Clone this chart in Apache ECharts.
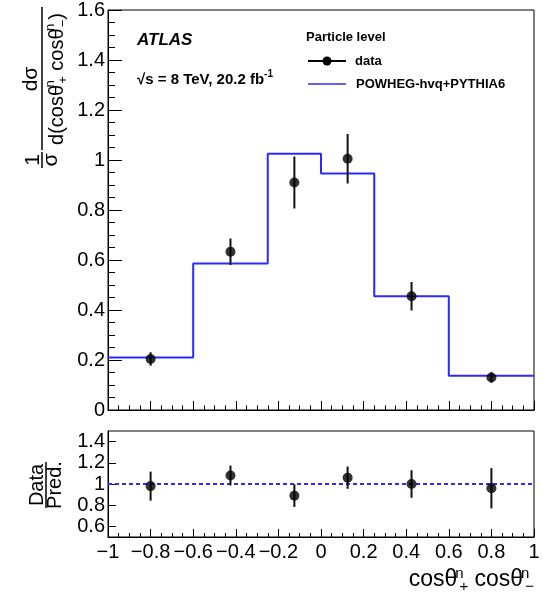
<!DOCTYPE html>
<html><head><meta charset="utf-8">
<script src="https://cdn.jsdelivr.net/npm/echarts@6/dist/echarts.min.js"></script>
<style>html,body{margin:0;padding:0;background:#fff}#c{width:543px;height:594px}</style>
</head><body><div id="c"></div>
<script>
const binEdges = [-1, -0.6, -0.25, 0, 0.25, 0.6, 1];
const binCenters = [-0.8, -0.425, -0.125, 0.125, 0.425, 0.8];
const dataValues = [0.204, 0.633, 0.910, 1.005, 0.455, 0.130];
const dataErrors = [0.027, 0.053, 0.104, 0.099, 0.057, 0.021];
const predValues = [0.210, 0.586, 1.025, 0.946, 0.455, 0.137];
const ratioValues = [0.98, 1.08, 0.89, 1.06, 1.00, 0.96];
const ratioErrors = [0.137, 0.094, 0.107, 0.105, 0.13, 0.19];
const ratioReference = 1;
const ratioTicks = [0.6, 0.8, 1, 1.2, 1.4];

const FONT = '"Liberation Sans", Arial, Helvetica, sans-serif';
const BLUE = '#2b2bff';

const histData = binEdges.slice(0, -1).map((e, i) => [e, predValues[i]]);
histData.push([binEdges[binEdges.length - 1], predValues[predValues.length - 1]]);
const pointData = binCenters.map((x, i) => [x, dataValues[i], dataErrors[i]]);
const ratioData = binCenters.map((x, i) => [x, ratioValues[i], ratioErrors[i]]);

function errRender(params, api) {
  const x = api.value(0), y = api.value(1), e = api.value(2);
  const a = api.coord([x, y + e]), b = api.coord([x, y - e]);
  return {type: 'line', shape: {x1: a[0], y1: a[1], x2: b[0], y2: b[1]},
          style: {stroke: '#111', lineWidth: 2}};
}

const scriptRich = (sz, gap) => ({
  sup: {fontSize: sz, fontFamily: FONT, verticalAlign: 'top', lineHeight: sz, width: 0.1, align: 'left', padding: [0, 0, 0, gap]},
  sub: {fontSize: sz, fontFamily: FONT, verticalAlign: 'bottom', lineHeight: sz}
});

const chart = echarts.init(document.getElementById('c'), null, {renderer: 'canvas'});
const xCommon = {
  type: 'value', min: -1, max: 1, interval: 0.2,
  axisLine: {show: true, onZero: false, lineStyle: {color: '#000', width: 1}},
  axisTick: {show: true, inside: true, length: 9, lineStyle: {color: '#000'}},
  minorTick: {show: true, splitNumber: 4, length: 4.5, lineStyle: {color: '#000'}},
  splitLine: {show: false}
};
chart.setOption({
  animation: false,
  backgroundColor: '#fff',
  grid: [
    {left: 108, right: 9, top: 10, height: 400, show: true, borderColor: '#000', borderWidth: 1, backgroundColor: 'transparent'},
    {left: 108, right: 9, top: 431, height: 106, show: true, borderColor: '#000', borderWidth: 1, backgroundColor: 'transparent'}
  ],
  xAxis: [
    Object.assign({}, xCommon, {gridIndex: 0, axisLabel: {show: false}}),
    Object.assign({}, xCommon, {gridIndex: 1, axisTick: {show: true, inside: true, length: 8, lineStyle: {color: '#000'}},
      minorTick: {show: true, splitNumber: 4, length: 4, lineStyle: {color: '#000'}},
      axisLabel: {show: true, fontSize: 20, fontFamily: FONT, color: '#000', margin: 5,
        formatter: v => String(Math.round(v * 10) / 10).replace('-', '\u2212')}})
  ],
  yAxis: [
    {gridIndex: 0, type: 'value', min: 0, max: 1.6, interval: 0.2,
     axisLine: {show: true, onZero: false, lineStyle: {color: '#000'}},
     axisTick: {show: true, inside: true, length: 14, lineStyle: {color: '#000'}},
     minorTick: {show: true, splitNumber: 4, length: 7, lineStyle: {color: '#000'}},
     splitLine: {show: false},
     axisLabel: {fontSize: 20, fontFamily: FONT, color: '#000', margin: 3,
       formatter: v => String(Math.round(v * 10) / 10)}},
    {gridIndex: 1, type: 'value', min: 0.5, max: 1.5,
     axisLine: {show: true, onZero: false, lineStyle: {color: '#000'}},
     axisTick: {show: true, inside: true, length: 8, customValues: ratioTicks, lineStyle: {color: '#000'}},
     splitLine: {show: false},
     axisLabel: {fontSize: 20, fontFamily: FONT, color: '#000', margin: 3, customValues: ratioTicks,
       formatter: v => String(Math.round(v * 10) / 10)}}
  ],
  series: [
    {type: 'line', xAxisIndex: 0, yAxisIndex: 0, data: histData, step: 'end', symbol: 'none',
     lineStyle: {color: BLUE, width: 2}, z: 2},
    {type: 'custom', xAxisIndex: 0, yAxisIndex: 0, data: pointData, renderItem: errRender,
     encode: {x: 0, y: 1}, z: 3},
    {type: 'scatter', xAxisIndex: 0, yAxisIndex: 0, data: pointData.map(d => [d[0], d[1]]),
     symbol: 'circle', symbolSize: 10, itemStyle: {color: '#000'}, z: 4},
    {type: 'line', xAxisIndex: 1, yAxisIndex: 1, data: [[-1, ratioReference], [1, ratioReference]],
     symbol: 'none', lineStyle: {color: BLUE, width: 2, type: [4, 3]}, z: 2},
    {type: 'custom', xAxisIndex: 1, yAxisIndex: 1, data: ratioData, renderItem: errRender,
     encode: {x: 0, y: 1}, z: 3},
    {type: 'scatter', xAxisIndex: 1, yAxisIndex: 1, data: ratioData.map(d => [d[0], d[1]]),
     symbol: 'circle', symbolSize: 10, itemStyle: {color: '#000'}, z: 4}
  ],
  graphic: [
    {type: 'text', x: 137, y: 40, style: {text: 'ATLAS', fontSize: 17, fontWeight: 'bold', fontStyle: 'italic', fontFamily: FONT, fill: '#000', verticalAlign: 'middle'}},
    {type: 'text', x: 137, y: 80, style: {text: '\u221As = 8 TeV, 20.2 fb{sup|-1}', fontSize: 15, fontWeight: 'bold', fontFamily: FONT, fill: '#000', verticalAlign: 'middle', lineHeight: 22,
      rich: {sup: {fontSize: 10, fontWeight: 'bold', fontFamily: FONT, verticalAlign: 'top', lineHeight: 10}}}},
    {type: 'text', x: 306, y: 37, style: {text: 'Particle level', fontSize: 13, fontWeight: 'bold', fontFamily: FONT, fill: '#000', verticalAlign: 'middle'}},
    {type: 'line', shape: {x1: 308, y1: 61, x2: 346, y2: 61}, style: {stroke: '#000', lineWidth: 2}},
    {type: 'circle', shape: {cx: 327, cy: 61, r: 4.5}, style: {fill: '#000'}},
    {type: 'text', x: 355, y: 61, style: {text: 'data', fontSize: 13, fontWeight: 'bold', fontFamily: FONT, fill: '#000', verticalAlign: 'middle'}},
    {type: 'line', shape: {x1: 308, y1: 84, x2: 346, y2: 84}, style: {stroke: BLUE, lineWidth: 1.5}},
    {type: 'text', x: 356, y: 84, style: {text: 'POWHEG-hvq+PYTHIA6', fontSize: 13, fontWeight: 'bold', fontFamily: FONT, fill: '#000', verticalAlign: 'middle'}},
    // upper y title
    {type: 'text', x: 33, y: 160, rotation: Math.PI / 2, style: {text: '1', fontSize: 21, fontFamily: FONT, fill: '#000', align: 'center', verticalAlign: 'middle'}},
    {type: 'line', shape: {x1: 42, y1: 152, x2: 42, y2: 168}, style: {stroke: '#000', lineWidth: 1.5}},
    {type: 'text', x: 51, y: 160, rotation: Math.PI / 2, style: {text: '\u03C3', fontSize: 21, fontFamily: FONT, fill: '#000', align: 'center', verticalAlign: 'middle'}},
    {type: 'text', x: 31, y: 79, rotation: Math.PI / 2, style: {text: 'd\u03C3', fontSize: 21, fontFamily: FONT, fill: '#000', align: 'center', verticalAlign: 'middle'}},
    {type: 'line', shape: {x1: 42, y1: 7, x2: 42, y2: 150}, style: {stroke: '#000', lineWidth: 1.5}},
    {type: 'text', x: 57, y: 79, rotation: Math.PI / 2, style: {text: 'd(cos\u03B8{sup|n}{sub|+} cos\u03B8{sup|n}{sub|\u2212})', fontSize: 20, fontFamily: FONT, fill: '#000', align: 'center', verticalAlign: 'middle', lineHeight: 26,
      rich: scriptRich(13, 1)}},
    // lower y title
    {type: 'text', x: 37, y: 485, rotation: Math.PI / 2, style: {text: 'Data', fontSize: 20, fontFamily: FONT, fill: '#000', align: 'center', verticalAlign: 'middle'}},
    {type: 'line', shape: {x1: 46, y1: 462, x2: 46, y2: 508}, style: {stroke: '#000', lineWidth: 1.5}},
    {type: 'text', x: 55, y: 485, rotation: Math.PI / 2, style: {text: 'Pred.', fontSize: 20, fontFamily: FONT, fill: '#000', align: 'center', verticalAlign: 'middle'}},
    // x title
    {type: 'text', x: 534, y: 580, style: {text: 'cos\u03B8{sup|n}{sub|+} cos\u03B8{sup|n}{sub|\u2212}', fontSize: 23, fontFamily: FONT, fill: '#000', align: 'right', verticalAlign: 'middle', lineHeight: 28,
      rich: scriptRich(15, 2)}}
  ]
});
</script>
</body></html>
